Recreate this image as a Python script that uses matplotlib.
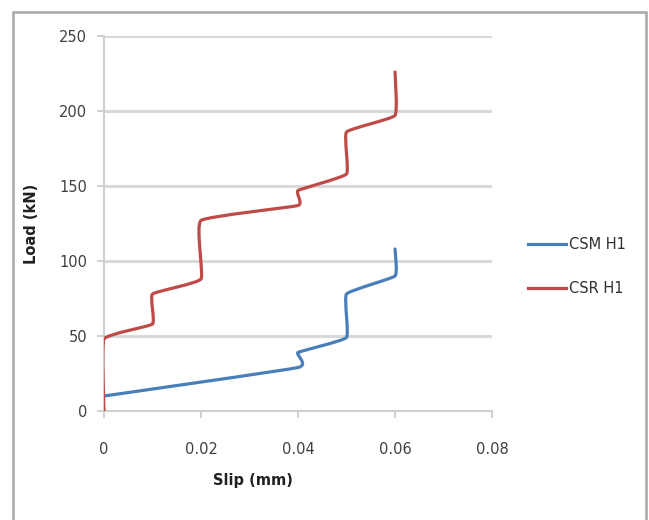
import matplotlib
matplotlib.use("Agg")
import matplotlib.pyplot as plt
from matplotlib.patches import Rectangle, PathPatch
from matplotlib.path import Path
from matplotlib.lines import Line2D

# Data
csm_slip = [0.0, 0.040, 0.040, 0.050, 0.050, 0.060, 0.060]
csm_load = [10, 29, 39, 49, 78, 90, 108]
csr_slip = [0.0, 0.0, 0.010, 0.010, 0.020, 0.020, 0.040, 0.040, 0.050, 0.050, 0.060, 0.060]
csr_load = [0, 48, 58, 78, 88, 127, 137, 147, 158, 186, 197, 226]
x_ticks = [0, 0.02, 0.04, 0.06, 0.08]
x_tick_labels = ["0", "0.02", "0.04", "0.06", "0.08"]
y_ticks = [0, 50, 100, 150, 200, 250]
series_names = ["CSM H1", "CSR H1"]
colors = ['#4a7ebb', '#be4b48']

plt.rcParams['font.family'] = ['Liberation Sans Narrow', 'DejaVu Sans']


def smooth_path(xs, ys, t=0.06):
    """Lightly smoothed path through the data points (like Excel smoothed lines)."""
    pts = list(zip(xs, ys))
    n = len(pts)
    verts = [pts[0]]
    codes = [Path.MOVETO]
    for i in range(n - 1):
        p0 = pts[i - 1] if i > 0 else pts[i]
        p1 = pts[i]
        p2 = pts[i + 1]
        p3 = pts[i + 2] if i + 2 < n else pts[i + 1]
        c1 = (p1[0] + (p2[0] - p0[0]) * t, p1[1] + (p2[1] - p0[1]) * t)
        c2 = (p2[0] - (p3[0] - p1[0]) * t, p2[1] - (p3[1] - p1[1]) * t)
        verts += [c1, c2, p2]
        codes += [Path.CURVE4] * 3
    return Path(verts, codes)


fig = plt.figure(figsize=(6.49, 5.2), dpi=100)
ax = fig.add_axes([104/649, 1-411/520, (492-104)/649, (411-36)/520])

for xs, ys, c in [(csm_slip, csm_load, colors[0]), (csr_slip, csr_load, colors[1])]:
    patch = PathPatch(smooth_path(xs, ys), facecolor='none', edgecolor=c, lw=2.3,
                      joinstyle='round', capstyle='round', zorder=3)
    ax.add_patch(patch)

ax.set_xlim(0, 0.08)
ax.set_ylim(0, 250)
ax.set_xticks(x_ticks)
ax.set_xticklabels(x_tick_labels)
ax.set_yticks(y_ticks)
ax.yaxis.grid(True, color='#d9d9d9', lw=2.2)
ax.set_axisbelow(True)
for s in ['top', 'right']:
    ax.spines[s].set_visible(False)
for s in ['left', 'bottom']:
    ax.spines[s].set_color('#d0d0d0')
    ax.spines[s].set_linewidth(1.5)
ax.tick_params(axis='x', direction='out', length=5, width=1.2, color='#c8c8c8',
               pad=17, labelsize=10.5, labelcolor='#404040')
ax.tick_params(axis='y', direction='out', length=5, width=1.2, color='#c8c8c8',
               pad=7, labelsize=10.5, labelcolor='#404040')

ax.set_xlabel("Slip (mm)", fontweight='bold', fontsize=10.5, color='#202020')
ax.xaxis.set_label_coords((253-104)/(492-104), -(481-411)/(411-36), transform=ax.transAxes)
ax.xaxis.label.set_verticalalignment('center')
ax.set_ylabel("Load (kN)", fontweight='bold', fontsize=10.5, color='#202020')
ax.yaxis.set_label_coords(-(104-32)/(492-104), 0.5)
ax.yaxis.label.set_verticalalignment('center')

handles = [Line2D([], [], color=c, lw=2.3) for c in colors]
leg = fig.legend(handles, series_names, loc='upper left',
                 bbox_to_anchor=(528/649, 1-237/520), frameon=False,
                 fontsize=10.5, handlelength=2.6, handletextpad=0.2, labelspacing=2.0,
                 borderaxespad=0, borderpad=0)
for t in leg.get_texts():
    t.set_color('#303030')

fig.patches.append(Rectangle((13/649, -0.05), (646-13)/649, 1.05-12/520,
                             transform=fig.transFigure, fill=False,
                             edgecolor='#a6a6a6', lw=1.8))

fig.savefig("out.png", dpi=100)
